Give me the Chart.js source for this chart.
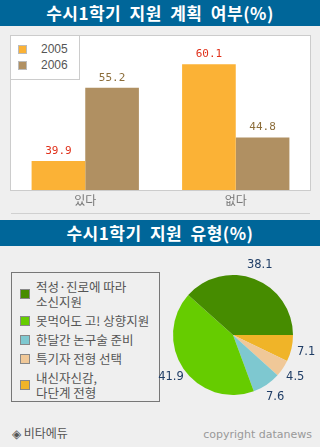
<!DOCTYPE html>
<html><head><meta charset="utf-8">
<script src="https://cdn.jsdelivr.net/npm/chart.js@4/dist/chart.umd.min.js"></script>
<style>
html,body{margin:0;padding:0;background:#efefef;}
#root{position:relative;width:320px;height:447px;background:#efefef;overflow:hidden;font-family:"Noto Sans CJK KR",sans-serif;}
.banner{position:absolute;left:0;width:320px;height:26px;line-height:26px;background:#006699;color:#fff;text-align:center;font-size:17px;font-weight:bold;letter-spacing:0.5px;word-spacing:4px;}
canvas{position:absolute;}
#barLegend{position:absolute;left:10px;top:35px;width:68px;height:43px;border:1px solid #ccc;background:#fff;box-sizing:content-box;}
#barLegend .it{position:absolute;left:7px;height:16px;font:12px "Liberation Sans",sans-serif;color:#555;}
#barLegend .sq{position:absolute;left:0;top:4px;width:7px;height:7px;border:1px solid #bbb;}
#barLegend .tx{position:absolute;left:23px;top:0;line-height:16px;}
#sep{position:absolute;left:11px;top:213px;width:299px;height:1px;background:#d0d0d0;}
#pieLegend{position:absolute;left:11px;top:272px;width:149px;height:130px;border:1px solid #777;box-sizing:border-box;padding-top:6px;}
#pieLegend .it{position:relative;margin-bottom:4px;padding-left:24px;font-size:12.5px;line-height:15px;color:#555;white-space:nowrap;}
#pieLegend .sq{position:absolute;left:8px;top:50%;margin-top:-5px;width:8px;height:8px;border:1px solid #888;}
#foot1{position:absolute;left:12px;top:424px;font-size:12px;line-height:18px;color:#555;}
#foot2{position:absolute;right:8px;top:427px;font:11px "DejaVu Sans",sans-serif;line-height:16px;color:#999;}
</style></head>
<body><div id="root">
<div class="banner" style="top:0">수시1학기 지원 계획 여부(%)</div>
<canvas id="bar" width="301" height="180" style="left:10px;top:30px;width:301px;height:180px"></canvas>
<div id="barLegend"></div>
<div id="sep"></div>
<div class="banner" style="top:220px">수시1학기 지원 유형(%)</div>
<div id="pieLegend"></div>
<canvas id="pie" width="170" height="170" style="left:150px;top:252px;width:170px;height:170px"></canvas>
<div id="foot1">◈ 비타에듀</div>
<div id="foot2">copyright datanews</div>
</div>
<script>
// ---- data ----
const barCategories = ['있다', '없다'];
const seriesNames = ['2005', '2006'];
const values2005 = [39.9, 60.1];
const values2006 = [55.2, 44.8];
const pieCategories = [['적성·진로에 따라', '소신지원'], ['못먹어도 고! 상향지원'], ['한달간 논구술 준비'], ['특기자 전형 선택'], ['내신자신감,', '다단계 전형']];
const pieValues = [38.1, 41.9, 7.6, 4.5, 7.1];

// ---- styles ----
const seriesColors = ['#fbb236', '#b09062'];
const labelColors = ['#e0301a', '#8c6d3a'];
const pieColors = ['#468c00', '#66cc00', '#7ec8d0', '#f0c898', '#f0b428'];

// bar legend
const bl = document.getElementById('barLegend');
seriesNames.forEach((n, i) => {
  const d = document.createElement('div');
  d.className = 'it';
  d.style.top = (5 + i * 16) + 'px';
  d.innerHTML = '<span class="sq" style="background:' + seriesColors[i] + '"></span><span class="tx">' + n + '</span>';
  bl.appendChild(d);
});
// pie legend
const pl = document.getElementById('pieLegend');
pieCategories.forEach((lines, i) => {
  const d = document.createElement('div');
  d.className = 'it';
  d.innerHTML = '<span class="sq" style="background:' + pieColors[i] + '"></span>' + lines.join('<br>');
  pl.appendChild(d);
});

const plotBg = {
  id: 'plotBg',
  beforeDraw(c) {
    const a = c.chartArea, x = c.ctx;
    x.save(); x.fillStyle = '#fff';
    x.fillRect(a.left, a.top, a.right - a.left, a.bottom - a.top);
    x.restore();
  },
  afterDatasetsDraw(c) {
    const a = c.chartArea, x = c.ctx;
    x.save(); x.strokeStyle = '#cccccc'; x.lineWidth = 1;
    x.strokeRect(a.left + 0.5, a.top + 0.5, a.right - a.left - 1, a.bottom - a.top);
    x.font = '11px "DejaVu Sans Mono", monospace';
    x.textAlign = 'center'; x.textBaseline = 'middle';
    c.data.datasets.forEach((ds, di) => {
      const meta = c.getDatasetMeta(di);
      x.fillStyle = labelColors[di];
      meta.data.forEach((el, j) => {
        x.fillText(ds.data[j].toFixed(1), el.x, el.y - 10);
      });
    });
    x.restore();
  }
};

new Chart(document.getElementById('bar'), {
  type: 'bar',
  data: {
    labels: barCategories,
    datasets: [
      { label: seriesNames[0], data: values2005, backgroundColor: seriesColors[0] },
      { label: seriesNames[1], data: values2006, backgroundColor: seriesColors[1] }
    ]
  },
  options: {
    responsive: false, animation: false, devicePixelRatio: 1,
    layout: { padding: { top: 5, left: 0, right: 0, bottom: 0 } },
    datasets: { bar: { categoryPercentage: 0.713, barPercentage: 1 } },
    plugins: { legend: { display: false }, tooltip: { enabled: false } },
    scales: {
      x: {
        grid: { display: false, drawTicks: false }, border: { display: false },
        ticks: { color: '#777', font: { family: '"Noto Sans CJK KR"', size: 12 }, padding: 3 },
        afterFit: s => { s.height = 20; }
      },
      y: { display: false, min: 33.85, max: 66.2 }
    }
  },
  plugins: [plotBg]
});

const pieLabels = {
  id: 'pieLabels',
  afterDatasetsDraw(c) {
    const x = c.ctx, meta = c.getDatasetMeta(0);
    x.save();
    x.font = '11.5px "DejaVu Sans", sans-serif';
    x.fillStyle = '#1f3d66'; x.textAlign = 'center'; x.textBaseline = 'middle';
    meta.data.forEach((arc, i) => {
      const m = (arc.startAngle + arc.endAngle) / 2;
      const r = arc.outerRadius + 15;
      x.fillText(c.data.datasets[0].data[i].toFixed(1), arc.x + Math.cos(m) * r, arc.y + Math.sin(m) * r);
    });
    x.restore();
  }
};

new Chart(document.getElementById('pie'), {
  type: 'pie',
  data: {
    labels: pieCategories.map(l => l.join(' ')).reverse(),
    datasets: [{ data: pieValues.slice().reverse(), backgroundColor: pieColors.slice().reverse(), borderWidth: 0 }]
  },
  options: {
    responsive: false, animation: false, devicePixelRatio: 1,
    rotation: 90,
    layout: { padding: { left: 23, right: 27, top: 23, bottom: 27 } },
    plugins: { legend: { display: false }, tooltip: { enabled: false } }
  },
  plugins: [pieLabels]
});
</script>
</body></html>
